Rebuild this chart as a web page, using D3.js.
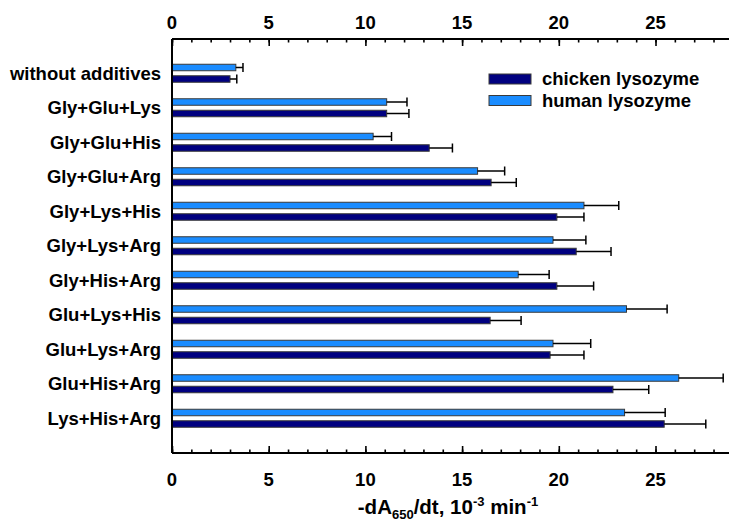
<!DOCTYPE html>
<html>
<head>
<meta charset="utf-8">
<script src="https://cdn.jsdelivr.net/npm/d3@7"></script>
<style>
  body { margin: 0; background: #fff; }
  svg { display: block; font-family: 'Liberation Sans', Arial, sans-serif; font-weight: bold; }
</style>
</head>
<body>
<svg width="729" height="525"></svg>
<script>
let categories = ['without additives', 'Gly+Glu+Lys', 'Gly+Glu+His', 'Gly+Glu+Arg', 'Gly+Lys+His',
  'Gly+Lys+Arg', 'Gly+His+Arg', 'Glu+Lys+His', 'Glu+Lys+Arg', 'Glu+His+Arg', 'Lys+His+Arg']

// values
let humanValues = [3.3, 11.1, 10.4, 15.8, 21.3, 19.7, 17.9, 23.5, 19.7, 26.2, 23.4]
let humanErrors = [0.37, 1.05, 0.95, 1.4, 1.8, 1.7, 1.6, 2.1, 1.95, 2.3, 2.1]
let chickenValues = [3.0, 11.1, 13.3, 16.5, 19.9, 20.9, 19.9, 16.45, 19.55, 22.8, 25.45]
let chickenErrors = [0.35, 1.15, 1.2, 1.3, 1.4, 1.8, 1.9, 1.6, 1.75, 1.85, 2.15]

let xTicks = [0, 5, 10, 15, 20, 25]
let seriesNames = ['chicken lysozyme', 'human lysozyme']
let seriesColors = ['#000080', '#1a8cff']

let svg = d3.select('svg')
let plotLeft = 172
let plotRight = 729
let plotTop = 39
let plotBottom = 453

let x = d3.scaleLinear().domain([0, 28.8]).range([plotLeft, plotRight])
let y = d3.scalePoint().domain(categories).range([plotTop, plotBottom]).padding(1)

let series = [
  {name: 'human', values: humanValues, errors: humanErrors, color: seriesColors[1], dy: -6},
  {name: 'chicken', values: chickenValues, errors: chickenErrors, color: seriesColors[0], dy: 5.5}
]

let barH = 6.5

series.forEach(function (s) {
  let g = svg.append('g')
  categories.forEach(function (c, i) {
    let cy = y(c) + s.dy
    g.append('rect')
      .attr('x', x(0))
      .attr('y', cy - barH / 2)
      .attr('width', x(s.values[i]) - x(0))
      .attr('height', barH)
      .attr('fill', s.color)
      .attr('stroke', '#3a3a3a')
      .attr('stroke-width', 1)
    // one-sided error bar
    let xe = x(s.values[i] + s.errors[i])
    g.append('line')
      .attr('x1', x(s.values[i])).attr('x2', xe)
      .attr('y1', cy).attr('y2', cy)
      .attr('stroke', '#000').attr('stroke-width', 1.5)
    g.append('line')
      .attr('x1', xe).attr('x2', xe)
      .attr('y1', cy - 4.5).attr('y2', cy + 4.5)
      .attr('stroke', '#000').attr('stroke-width', 1.5)
  })
})

// axes
let minorTicks = d3.range(0, 29, 1)

let topAxis = svg.append('g').attr('transform', 'translate(0,' + plotTop + ')')
  .call(d3.axisBottom(x).tickValues(minorTicks).tickSize(3.5).tickFormat(''))
topAxis.append('g').call(d3.axisBottom(x).tickValues(xTicks).tickSize(7).tickFormat(''))
let bottomAxis = svg.append('g').attr('transform', 'translate(0,' + plotBottom + ')')
  .call(d3.axisTop(x).tickValues(minorTicks).tickSize(3.5).tickFormat(''))
bottomAxis.append('g').call(d3.axisTop(x).tickValues(xTicks).tickSize(7).tickFormat(''))

svg.selectAll('.domain').remove()
svg.selectAll('.tick line').attr('stroke', '#000').attr('stroke-width', 1.6)

svg.append('line')
  .attr('x1', plotLeft).attr('x2', plotRight).attr('y1', plotTop).attr('y2', plotTop)
  .attr('stroke', '#000').attr('stroke-width', 2)
svg.append('line')
  .attr('x1', plotLeft).attr('x2', plotRight).attr('y1', plotBottom).attr('y2', plotBottom)
  .attr('stroke', '#000').attr('stroke-width', 2)
svg.append('line')
  .attr('x1', plotLeft).attr('x2', plotLeft).attr('y1', plotTop).attr('y2', plotBottom)
  .attr('stroke', '#000').attr('stroke-width', 2)

// tick labels
svg.append('g').selectAll('text').data(xTicks).join('text')
  .attr('x', d => x(d)).attr('y', 29)
  .attr('text-anchor', 'middle').attr('font-size', 18.5)
  .text(d => d)
svg.append('g').selectAll('text').data(xTicks).join('text')
  .attr('x', d => x(d)).attr('y', 486)
  .attr('text-anchor', 'middle').attr('font-size', 18.5)
  .text(d => d)

// category labels
svg.append('g').selectAll('text').data(categories).join('text')
  .attr('x', 161).attr('y', d => y(d))
  .attr('dy', '0.35em')
  .attr('text-anchor', 'end').attr('font-size', 18.5)
  .text(d => d)

// axis title
let title = svg.append('text')
  .attr('x', 448).attr('y', 514)
  .attr('text-anchor', 'middle').attr('font-size', 20.5)
title.append('tspan').text('-dA')
title.append('tspan').attr('font-size', 13).attr('dy', 5).text('650')
title.append('tspan').attr('dy', -5).text('/dt, 10')
title.append('tspan').attr('font-size', 13).attr('dy', -8).text('-3')
title.append('tspan').attr('dy', 8).text(' min')
title.append('tspan').attr('font-size', 13).attr('dy', -8).text('-1')

// legend
let legend = svg.append('g')
seriesNames.forEach(function (n, i) {
  let ly = 79 + i * 21.5
  legend.append('rect')
    .attr('x', 489).attr('y', ly - 5)
    .attr('width', 42).attr('height', 10)
    .attr('fill', seriesColors[i])
    .attr('stroke', '#3a3a3a').attr('stroke-width', 1)
  legend.append('text')
    .attr('x', 542).attr('y', ly).attr('dy', '0.35em')
    .attr('font-size', 18.5)
    .text(n)
})
</script>
</body>
</html>
